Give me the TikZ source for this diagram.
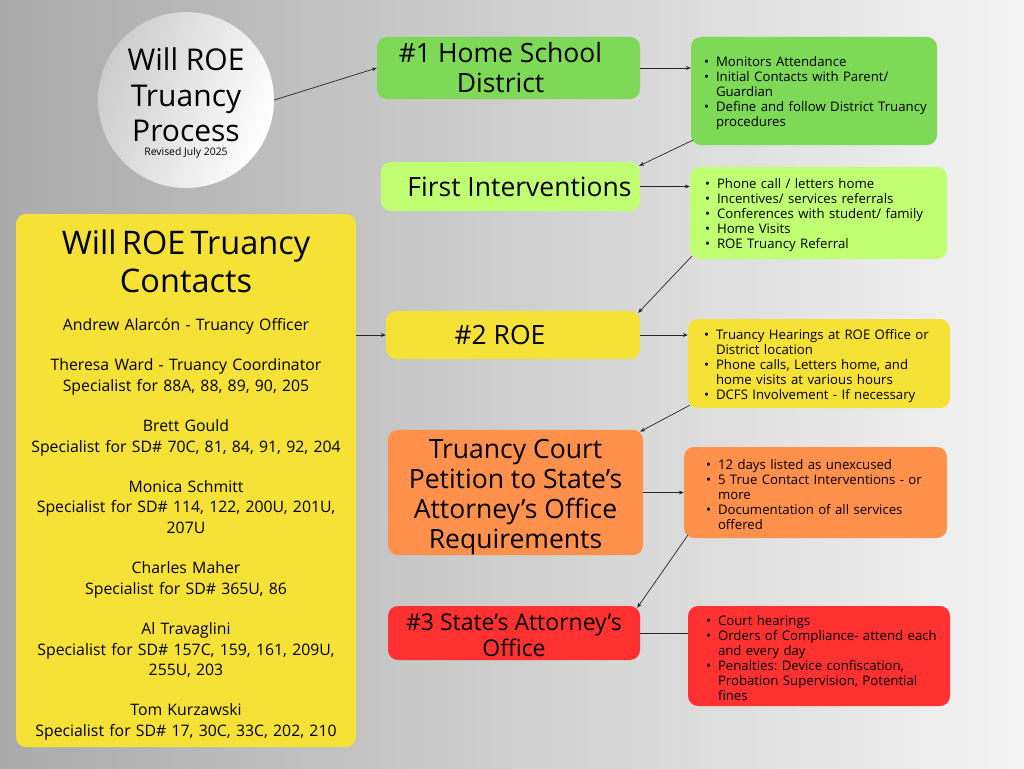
\documentclass[tikz,border=0pt]{standalone}
\usepackage{fontspec}
\setmainfont{Open Sans}
\usepackage{enumitem}
\usetikzlibrary{arrows.meta, positioning}
\frenchspacing

\definecolor{homegreen}{HTML}{7ED957}
\definecolor{limegreen}{HTML}{C1FF72}
\definecolor{roeyellow}{HTML}{F6E136}
\definecolor{courtorange}{HTML}{FF914D}
\definecolor{attyred}{HTML}{FF3131}

\newcommand{\bulletlist}[2][17pt]{\begin{itemize}[leftmargin=#1,labelsep=7pt,nosep]#2\end{itemize}}

\tikzset{
    stagebox/.style={rounded corners=10pt, align=center, inner sep=0pt,
        font=\fontsize{26.5}{30}\selectfont},
    listbox/.style={rounded corners=10pt, align=left, inner xsep=10pt, inner ysep=0pt,
        font=\fontsize{13.2}{15}\selectfont},
    link/.style={-{Stealth[length=5pt,width=4pt]}, line width=0.7pt, black!85},
}

\begin{document}
\begin{tikzpicture}[x=1pt, y=-1pt]
    \shade[left color={rgb,255:red,170;green,170;blue,170}, right color={rgb,255:red,244;green,244;blue,244}]
        (0,0) rectangle (1024,768);
    \useasboundingbox (0,0) rectangle (1024,768);

    % title circle
    \node[circle, minimum size=176pt, inner sep=0pt,
          shading=axis, left color=black!20, right color=white, shading angle=70]
          (Title) at (186,100) {};
    \node[align=center, font=\fontsize{30}{35.5}\selectfont] (Title Text) at (186,95)
          {Will ROE\\Truancy\\Process};
    \node[font=\fontsize{10.4}{12}\selectfont] (Revised) at (186,153) {Revised July 2025};

    % process column
    \node[stagebox, fill=homegreen, minimum width=263pt, minimum height=62pt]
          (Home) at (508.5,68) {\#1 Home School\hspace*{16pt}\\District\hspace*{16pt}};
    \node[stagebox, fill=limegreen, minimum width=259pt, minimum height=49pt]
          (First) at (510.5,186.5) {\hspace*{18pt}First Interventions};
    \node[stagebox, fill=roeyellow, minimum width=254pt, minimum height=48pt]
          (ROE) at (513,335) {\#2 ROE\hspace*{26pt}};
    \node[stagebox, fill=courtorange, minimum width=255pt, minimum height=125pt]
          (Court) at (515.5,492.5) {\rule{0pt}{29pt}Truancy Court\\Petition to State’s\\Attorney’s Office\\Requirements};
    \node[stagebox, fill=attyred, minimum width=252pt, minimum height=54pt,
          font=\fontsize{23}{26}\selectfont]
          (Attorney) at (514,633) {\rule{0pt}{22pt}\#3 State’s Attorney’s\\Office};

    % bullet lists
    \node[listbox, fill=homegreen, text width=236pt, inner xsep=5pt, minimum height=108pt]
          (Home List) at (814,91) {\bulletlist[20pt]{
            \item Monitors Attendance
            \item Initial Contacts with Parent/\\Guardian
            \item Define and follow District Truancy\\procedures}};
    \node[listbox, fill=limegreen, text width=237pt, minimum height=92pt]
          (First List) at (818.5,213) {\bulletlist[17pt]{
            \item Phone call / letters home
            \item Incentives/ services referrals
            \item Conferences with student/ family
            \item Home Visits
            \item ROE Truancy Referral}};
    \node[listbox, fill=roeyellow, text width=242pt, minimum height=89pt]
          (ROE List) at (819,363.5) {\bulletlist[18pt]{
            \item Truancy Hearings at ROE Office or\\District location
            \item Phone calls, Letters home, and\\home visits at various hours
            \item DCFS Involvement - If necessary}};
    \node[listbox, fill=courtorange, text width=243pt, minimum height=91pt]
          (Court List) at (815.5,492.5) {\bulletlist[24pt]{
            \item 12 days listed as unexcused
            \item 5 True Contact Interventions - or\\more
            \item Documentation of all services\\offered}};
    \node[listbox, fill=attyred, text width=242pt, minimum height=100pt]
          (Attorney List) at (819,656) {\bulletlist[20pt]{
            \item Court hearings
            \item Orders of Compliance- attend each\\and every day
            \item Penalties: Device confiscation,\\Probation Supervision, Potential\\fines}};

    % contacts
    \node[rounded corners=10pt, fill=roeyellow, minimum width=340pt, minimum height=533pt,
          text width=334pt, align=center, inner xsep=3pt, inner ysep=0pt,
          font=\fontsize{15.8}{20.3}\selectfont]
          (Contacts) at (186,480.5) {%
            {\fontsize{32.5}{38}\selectfont \rule{0pt}{34pt}Will ROE Truancy\\Contacts\par}\vspace{17pt}
            Andrew Alarcón - Truancy Officer\\[20.3pt]
            Theresa Ward - Truancy Coordinator\\
            Specialist for 88A, 88, 89, 90, 205\\[20.3pt]
            Brett Gould\\
            Specialist for SD\# 70C, 81, 84, 91, 92, 204\\[20.3pt]
            Monica Schmitt\\
            Specialist for SD\# 114, 122, 200U, 201U,\\
            207U\\[20.3pt]
            Charles Maher\\
            Specialist for SD\# 365U, 86\\[20.3pt]
            Al Travaglini\\
            Specialist for SD\# 157C, 159, 161, 209U,\\
            255U, 203\\[20.3pt]
            Tom Kurzawski\\
            Specialist for SD\# 17, 30C, 33C, 202, 210};

    % connectors
    \draw[link] (Title.east) -- (Home.west);
    \draw[link] (Home.east) -- (Home.east -| Home List.west);
    \draw[link] ([xshift=2pt,yshift=5pt]Home List.south west) -- ([xshift=-1pt,yshift=-4pt]First.north east);
    \draw[link] (First.east) -- (First.east -| First List.west);
    \draw[link] ([xshift=2pt,yshift=3pt]First List.south west) -- ([xshift=-2pt,yshift=-2pt]ROE.north east);
    \draw[link] (Contacts.east |- ROE.west) -- (ROE.west);
    \draw[link] (ROE.east) -- (ROE.east -| ROE List.west);
    \draw[link] ([xshift=2pt,yshift=3pt]ROE List.south west) -- ([xshift=-3pt,yshift=-2pt]Court.north east);
    \draw[link] (Court.east) -- (Court.east -| Court List.west);
    \draw[link] ([xshift=4pt,yshift=3pt]Court List.south west) -- ([xshift=-3pt,yshift=-2pt]Attorney.north east);
    \draw[line width=0.7pt, black!85] (Attorney.east) -- (Attorney.east -| Attorney List.west);
\end{tikzpicture}
\end{document}
